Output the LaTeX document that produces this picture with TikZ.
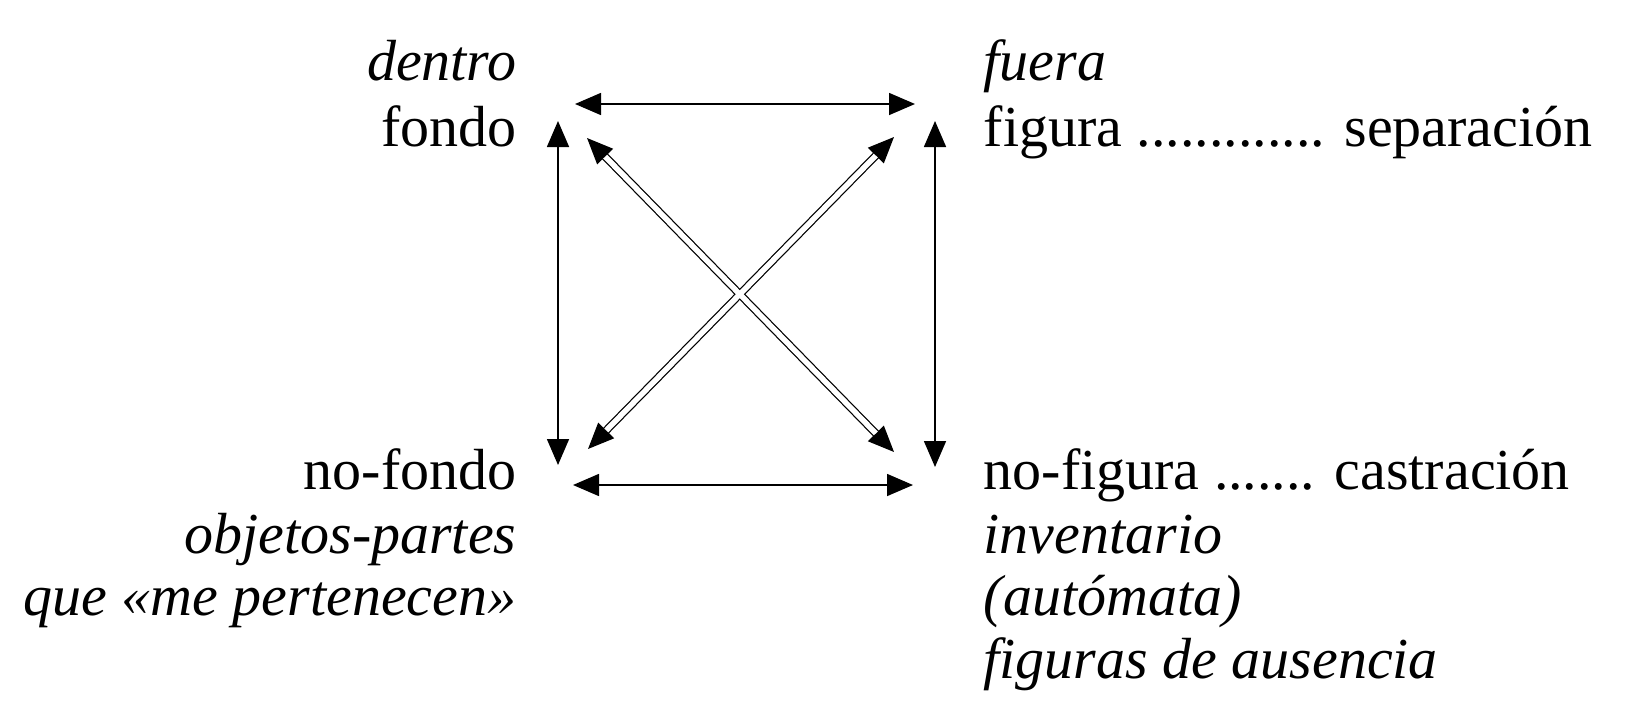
\documentclass[tikz,border=0pt]{standalone}
\usepackage{fontspec}
\setmainfont{Liberation Serif}
\usetikzlibrary{arrows.meta}
\tikzset{
  lbl/.style={inner sep=0pt, font=\fontsize{16.5pt}{18pt}\selectfont},
  tipped/.style={line width=0.45pt, {Triangle[length=2.6mm,width=2.2mm]}-{Triangle[length=2.6mm,width=2.2mm]}},
  dblout/.style={line width=0.55mm+0.7pt, shorten <=2.4mm, shorten >=2.4mm},
  dblin/.style={white, line width=0.55mm, shorten <=2.6mm, shorten >=2.6mm}
}
\begin{document}
\begin{tikzpicture}[x=0.1mm,y=-0.1mm]
\useasboundingbox (0,0) rectangle (1630,718);
% texts left
\node[lbl,anchor=base east] (dentro) at (517,80) {\itshape dentro};
\node[lbl,anchor=base east] (fondo) at (517,146) {fondo};
\node[lbl,anchor=base east] (nofondo) at (517,489) {no-fondo};
\node[lbl,anchor=base east] (objetos) at (517,553) {\itshape objetos-partes};
\node[lbl,anchor=base east] (que) at (517,615) {\itshape que «me pertenecen»};
% texts right
\node[lbl,anchor=base west] (fuera) at (983,80) {\itshape fuera};
\node[lbl,anchor=base west] (figura) at (983,146) {figura ............. separación};
\node[lbl,anchor=base west] (nofigura) at (983,489) {no-figura ....... castración};
\node[lbl,anchor=base west] (inventario) at (983,553) {\itshape inventario};
\node[lbl,anchor=base west] (automata) at (983,615) {\itshape (autómata)};
\node[lbl,anchor=base west] (figuras) at (983,678) {\itshape figuras de ausencia};
% arrow endpoints
\coordinate (th1) at (575,104);
\coordinate (th2) at (915,104);
\coordinate (bh1) at (573,485);
\coordinate (bh2) at (913,485);
\coordinate (lv1) at (558,121);
\coordinate (lv2) at (558,465);
\coordinate (rv1) at (935,121);
\coordinate (rv2) at (935,467);
\coordinate (d1a) at (587,138);
\coordinate (d1b) at (894,452);
\coordinate (d2a) at (894,137);
\coordinate (d2b) at (588,449);
% straight arrows
\draw[tipped] (th1) -- (th2);
\draw[tipped] (bh1) -- (bh2);
\draw[tipped] (lv1) -- (lv2);
\draw[tipped] (rv1) -- (rv2);
% double diagonal arrows
\draw[tipped] (d1a) -- (d1b);
\draw[tipped] (d2a) -- (d2b);
\draw[dblout] (d1a) -- (d1b);
\draw[dblout] (d2a) -- (d2b);
\draw[dblin] (d1a) -- (d1b);
\draw[dblin] (d2a) -- (d2b);
\end{tikzpicture}
\end{document}
